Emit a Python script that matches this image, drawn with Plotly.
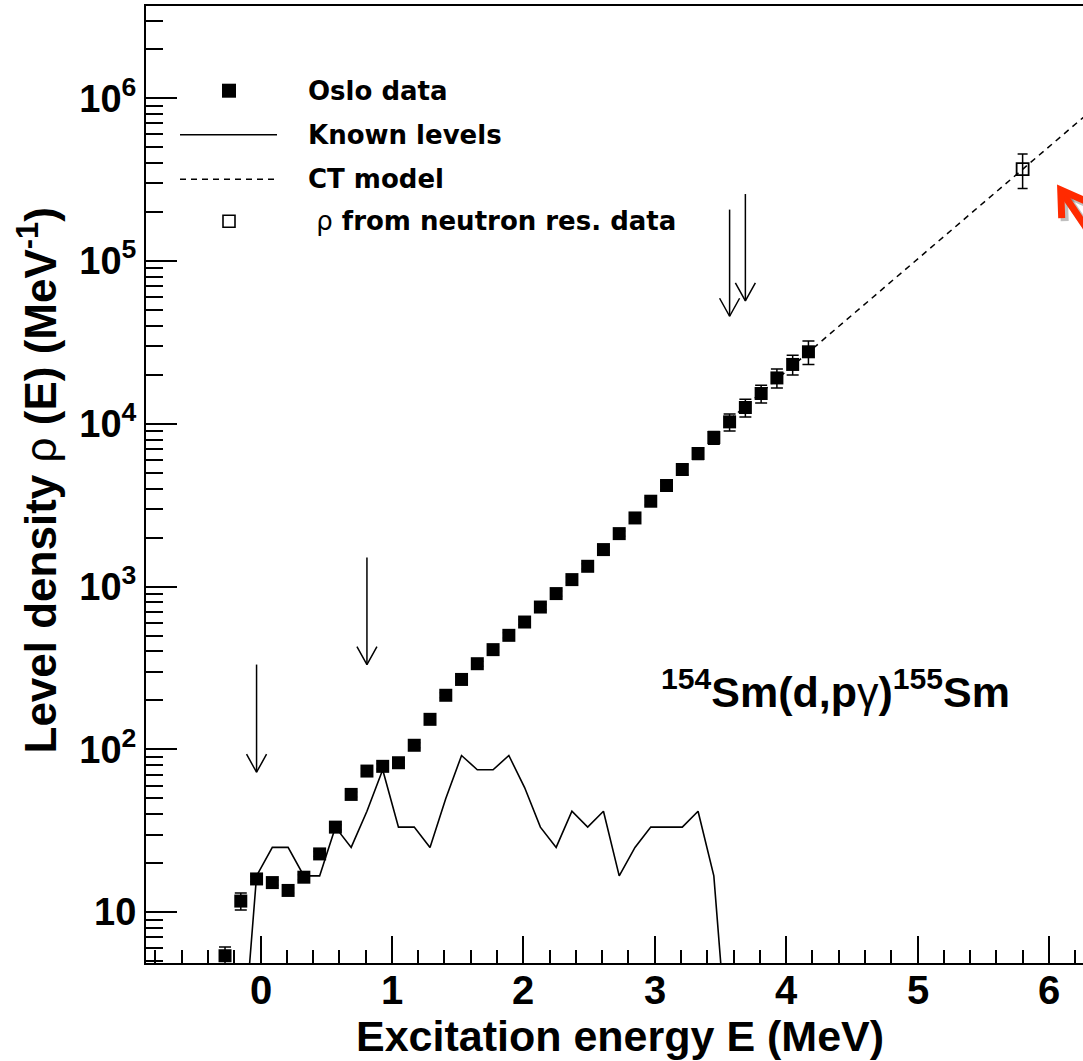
import math
import plotly.graph_objects as go

# ---------------- data ----------------
E_oslo = [-0.27, -0.15, -0.03, 0.09, 0.21, 0.33, 0.45, 0.57, 0.69, 0.81,
          0.93, 1.05, 1.17, 1.29, 1.41, 1.53, 1.65, 1.77, 1.89, 2.01,
          2.13, 2.25, 2.37, 2.49, 2.61, 2.73, 2.85, 2.97, 3.09, 3.21,
          3.33, 3.45, 3.57, 3.69, 3.81, 3.93, 4.05, 4.17]
rho_oslo = [5.4, 11.7, 16.0, 15.2, 13.6, 16.4, 22.8, 33.3, 52.9, 73.6,
            78.7, 82.8, 106, 153, 215, 269, 336, 410, 502, 606,
            749, 906, 1104, 1333, 1688, 2116, 2641, 3346, 4180, 5240,
            6570, 8240, 10280, 12600, 15350, 19140, 23160, 27700]
err_oslo = [0.7, 1.4, 0.6, 0.55, 0.5, 0.6, 0.8, 1.2, 1.9, 2.6,
            2.8, 3.0, 3.8, 5.5, 7.7, 9.7, 12, 15, 18, 22,
            27, 33, 40, 48, 61, 76, 95, 170, 250, 370,
            530, 740, 1230, 1580, 1920, 2550, 3240, 4570]

E_known = [-0.15, -0.03, 0.09, 0.21, 0.33, 0.45, 0.57, 0.69, 0.81, 0.93,
           1.05, 1.17, 1.29, 1.41, 1.53, 1.65, 1.77, 1.89, 2.01, 2.13,
           2.25, 2.37, 2.49, 2.61, 2.73, 2.85, 2.97, 3.09, 3.21, 3.33,
           3.45, 3.57]
rho_known = [1.0, 16.7, 25.0, 25.0, 16.7, 16.7, 33.3, 25.0, 41.7, 75.0,
             33.3, 33.3, 25.0, 50.0, 91.7, 75.0, 75.0, 91.7, 58.3, 33.3,
             25.0, 41.7, 33.3, 41.7, 16.7, 25.0, 33.3, 33.3, 33.3, 41.7,
             16.7, 1.0]

E_ct = [3.57, 4.00, 5.00, 6.00, 6.40]
rho_ct = [1.06e4, 2.10e4, 1.03e5, 5.03e5, 9.5e5]

E_res = [5.80]
rho_res = [3.67e5]
err_res = [8.8e4]

arrow_E = [-0.03, 0.81, 3.57, 3.69]
arrow_from = [332, 1507, 2.07e5, 2.58e5]
arrow_to = [72.4, 332, 4.58e4, 5.69e4]

red_tip_E = 6.09
red_tip_rho = 2.73e5

x_tick_vals = [0, 1, 2, 3, 4, 5, 6]
x_tick_text = ["0", "1", "2", "3", "4", "5", "6"]
y_tick_vals = [10, 100, 1e3, 1e4, 1e5, 1e6]
y_tick_text = ["10", "10<sup>2</sup>", "10<sup>3</sup>", "10<sup>4</sup>",
               "10<sup>5</sup>", "10<sup>6</sup>"]

legend_labels = ["Oslo data", "Known levels", "CT model",
                 " \u03c1 from neutron res. data"]

# ---------------- geometry ----------------
W, H = 1083, 1061
ML, MR, MT, MB = 146, 0, 6, 98
X_RANGE = [-0.8714, 6.2595]
Y_RANGE = [0.6878, 6.5667]
px_E = (W - ML - MR) / (X_RANGE[1] - X_RANGE[0])
px_dec = (H - MT - MB) / (Y_RANGE[1] - Y_RANGE[0])


def pxx(p):
    return (p - ML) / (W - ML - MR)


def pxy(p):
    return (H - MB - p) / (H - MT - MB)


FT = "Liberation Sans, Arial, Helvetica, sans-serif"
FL = "DejaVu Sans, sans-serif"

fig = go.Figure()

# known levels
fig.add_trace(go.Scatter(x=E_known, y=rho_known, mode="lines",
                         line=dict(color="black", width=1.6),
                         showlegend=False, hoverinfo="skip"))
# CT model
fig.add_trace(go.Scatter(x=E_ct, y=rho_ct, mode="lines",
                         line=dict(color="black", width=1.5, dash="6px,5px"),
                         showlegend=False, hoverinfo="skip"))
# Oslo data
fig.add_trace(go.Scatter(x=E_oslo, y=rho_oslo, mode="markers",
                         marker=dict(symbol="square", size=13, color="black",
                                     line=dict(width=0)),
                         error_y=dict(type="data", array=err_oslo, visible=True,
                                      color="black", thickness=1.5, width=6),
                         showlegend=False))
# neutron resonance point
fig.add_trace(go.Scatter(x=E_res, y=rho_res, mode="markers",
                         marker=dict(symbol="square-open", size=12, color="black",
                                     line=dict(width=1.8, color="black")),
                         error_y=dict(type="data", array=err_res, visible=True,
                                      color="black", thickness=1.5, width=5),
                         showlegend=False))

# black arrows (vertical, open V heads)
hw = 10 / px_E
hl = 10 ** (18 / px_dec)
ax_x, ax_y = [], []
for e, a, b in zip(arrow_E, arrow_from, arrow_to):
    ax_x += [e, e, None, e - hw, e, e + hw, None]
    ax_y += [a, b, None, b * hl, b, b * hl, None]
fig.add_trace(go.Scatter(x=ax_x, y=ax_y, mode="lines",
                         line=dict(color="black", width=1.5),
                         showlegend=False, hoverinfo="skip"))

# red arrow (pointing up-left at the resonance point)
th = math.radians(56)
ph = math.radians(32)


def off(e, r, dx, dy):
    return e + dx / px_E, r * 10 ** (-dy / px_dec)


tail = off(red_tip_E, red_tip_rho, 70 * math.cos(th), 70 * math.sin(th))
w1 = off(red_tip_E, red_tip_rho, 28 * math.cos(th - ph), 28 * math.sin(th - ph))
w2 = off(red_tip_E, red_tip_rho, 28 * math.cos(th + ph), 28 * math.sin(th + ph))
for col, sh, wd in [("rgba(0,0,0,0.25)", 3, 8), ("#ff2a00", 0, 7)]:
    pts = [tail, (red_tip_E, red_tip_rho), None, w1, (red_tip_E, red_tip_rho), w2]
    xs, ys = [], []
    for p in pts:
        if p is None:
            xs.append(None); ys.append(None)
        else:
            q = off(p[0], p[1], sh, sh)
            xs.append(q[0]); ys.append(q[1])
    fig.add_trace(go.Scatter(x=xs, y=ys, mode="lines",
                             line=dict(color=col, width=wd),
                             showlegend=False, hoverinfo="skip"))

# ---------------- manual legend ----------------
shapes = []
ann = []
rows = [90.7, 134.7, 179.3, 221.3]
sx = pxx(229)
shapes.append(dict(type="rect", xref="paper", yref="paper",
                   xsizemode="pixel", ysizemode="pixel",
                   xanchor=sx, yanchor=pxy(rows[0]),
                   x0=-7, x1=7, y0=-7, y1=7,
                   fillcolor="black", line=dict(width=0)))
shapes.append(dict(type="line", xref="paper", yref="paper",
                   x0=pxx(180), x1=pxx(277), y0=pxy(rows[1]), y1=pxy(rows[1]),
                   line=dict(color="black", width=1.6)))
shapes.append(dict(type="line", xref="paper", yref="paper",
                   x0=pxx(180), x1=pxx(277), y0=pxy(rows[2]), y1=pxy(rows[2]),
                   line=dict(color="black", width=1.5, dash="6px,5px")))
shapes.append(dict(type="rect", xref="paper", yref="paper",
                   xsizemode="pixel", ysizemode="pixel",
                   xanchor=sx, yanchor=pxy(rows[3]),
                   x0=-6, x1=6, y0=-6, y1=6,
                   fillcolor="white", line=dict(width=1.6, color="black")))
for lab, r in zip(legend_labels, rows):
    if "\u03c1" in lab:
        txt = " \u03c1<b>" + lab.split("\u03c1")[1] + "</b>"
    else:
        txt = "<b>" + lab + "</b>"
    ann.append(dict(xref="paper", yref="paper", x=pxx(306), y=pxy(r),
                    xanchor="left", yanchor="middle", showarrow=False,
                    text=txt, font=dict(family=FL, size=26, color="black")))

# x tick labels (placed just under the axis, as in the reference)
for v, t in zip(x_tick_vals, x_tick_text):
    ann.append(dict(xref="x", yref="paper", x=v, y=pxy(990),
                    xanchor="center", yanchor="middle", showarrow=False,
                    text="<b>" + t + "</b>",
                    font=dict(family=FT, size=40, color="black")))

# reaction label
ann.append(dict(xref="paper", yref="paper", x=pxx(835), y=pxy(689),
                xanchor="center", yanchor="middle", showarrow=False,
                text="<b><sup>154</sup>Sm(d,p</b>\u03b3<b>)<sup>155</sup>Sm</b>",
                font=dict(family=FT, size=43, color="black")))
# axis titles
ann.append(dict(xref="paper", yref="paper", x=pxx(619.5), y=pxy(1036),
                xanchor="center", yanchor="middle", showarrow=False,
                text="<b>Excitation energy E (MeV)</b>",
                font=dict(family=FT, size=43, color="black")))
ann.append(dict(xref="paper", yref="paper", x=pxx(36.5), y=pxy(481),
                xanchor="center", yanchor="middle", showarrow=False, textangle=-90,
                text="<b>Level density </b>\u03c1<b> (E) (MeV<sup>-1</sup>)</b>",
                font=dict(family=FT, size=44, color="black")))

y_minor = []
for d in range(0, 7):
    for k in range(2, 10):
        y_minor.append(k * 10 ** d)

fig.update_layout(
    width=W, height=H,
    margin=dict(l=ML, r=MR, t=MT, b=MB, pad=0),
    paper_bgcolor="white", plot_bgcolor="white",
    showlegend=False,
    shapes=shapes, annotations=ann,
    xaxis=dict(range=X_RANGE, showgrid=False, zeroline=False,
               showline=True, linecolor="black", linewidth=2, mirror=True,
               tickmode="array", tickvals=x_tick_vals, showticklabels=False,
               ticks="inside", ticklen=27, tickwidth=1.8, tickcolor="black",
               minor=dict(dtick=0.2, tick0=0, ticks="inside", ticklen=13,
                          tickwidth=1.6, tickcolor="black", showgrid=False)),
    yaxis=dict(type="log", range=Y_RANGE, showgrid=False, zeroline=False,
               showline=True, linecolor="black", linewidth=2,
               tickmode="array", tickvals=y_tick_vals, ticktext=y_tick_text,
               ticks="inside", ticklen=31, tickwidth=1.8, tickcolor="black",
               minor=dict(tickmode="array", tickvals=y_minor, ticks="inside",
                          ticklen=17, tickwidth=1.6, tickcolor="black",
                          showgrid=False),
               tickfont=dict(family=FT, size=38, color="black", weight="bold"),
               ticklabelstandoff=0),
)

fig.write_html("out.html")
